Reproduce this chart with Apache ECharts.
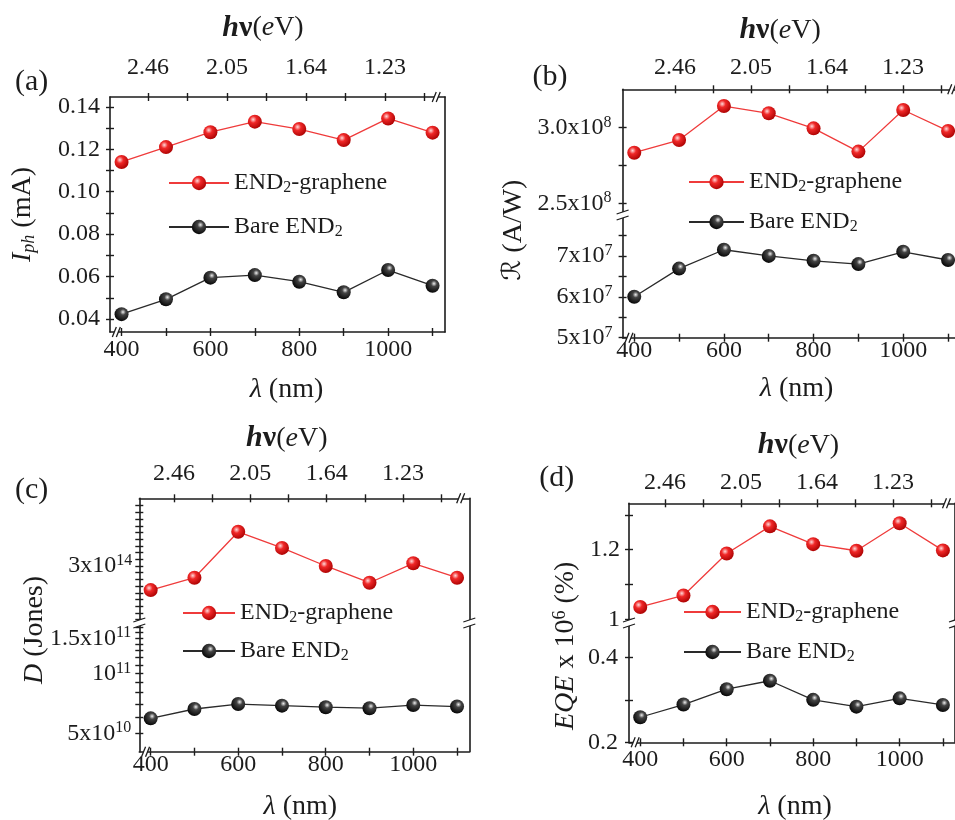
<!DOCTYPE html>
<html><head><meta charset="utf-8">
<script src="https://cdn.jsdelivr.net/npm/echarts@6/dist/echarts.min.js"></script>
<style>html,body{margin:0;padding:0;background:#fff}#c{width:955px;height:820px}</style>
</head><body><div id="c"></div>
<script>
// ---------------- data ----------------
const wavelengths = [400, 500, 600, 700, 800, 900, 1000, 1100];
const wavelengthLabels = [400, 600, 800, 1000];
const wavelengthTicks = [400, 500, 600, 700, 800, 900, 1000, 1100];
const energyLabels = [2.46, 2.05, 1.64, 1.23];
const energyTicks = [2.46, 2.255, 2.05, 1.845, 1.64, 1.435, 1.23, 1.025];
const seriesNames = ['END2-graphene', 'Bare END2'];

const iphGraphene = [0.114, 0.121, 0.128, 0.133, 0.1295, 0.1243, 0.1345, 0.1278];
const iphBare = [0.0423, 0.0493, 0.0595, 0.0607, 0.0576, 0.0526, 0.0631, 0.0557];
const iphLabels = [0.04, 0.06, 0.08, 0.10, 0.12, 0.14];
const iphTicks = [0.04, 0.05, 0.06, 0.07, 0.08, 0.09, 0.10, 0.11, 0.12, 0.13, 0.14];

const respGraphene = [2.833e8, 2.916e8, 3.14e8, 3.092e8, 2.993e8, 2.84e8, 3.114e8, 2.976e8];
const respBare = [6.0e7, 6.69e7, 7.15e7, 7.0e7, 6.88e7, 6.8e7, 7.1e7, 6.9e7];
const respUpperLabels = [2.5e8, 3.0e8];
const respUpperTicks = [2.5e8, 2.75e8, 3.0e8];
const respLowerLabels = [5e7, 6e7, 7e7];
const respLowerTicks = [5e7, 5.5e7, 6e7, 6.5e7, 7e7, 7.5e7];

const detGraphene = [2.64e14, 2.825e14, 3.51e14, 3.27e14, 3.0e14, 2.75e14, 3.04e14, 2.825e14];
const detBare = [5.94e10, 6.62e10, 7.01e10, 6.88e10, 6.76e10, 6.68e10, 6.93e10, 6.81e10];
const detUpperLabels = [3e14];
const detUpperTicks = [2.2e14, 2.3e14, 2.4e14, 2.5e14, 2.6e14, 2.7e14, 2.8e14, 2.9e14, 3.0e14, 3.1e14, 3.2e14, 3.3e14, 3.4e14, 3.5e14, 3.6e14, 3.7e14, 3.8e14, 3.9e14];
const detLowerLabels = [5e10, 1e11, 1.5e11];
const detLowerTicks = [5e10, 6e10, 7e10, 8e10, 9e10, 1e11, 1.1e11, 1.2e11, 1.3e11, 1.4e11, 1.5e11, 1.6e11, 1.7e11];

const eqeGraphene = [1.036, 1.069, 1.189, 1.267, 1.216, 1.197, 1.276, 1.198];
const eqeBare = [0.259, 0.289, 0.325, 0.345, 0.300, 0.284, 0.3035, 0.288];
const eqeUpperLabels = [1, 1.2];
const eqeUpperTicks = [1.0, 1.1, 1.2, 1.3];
const eqeLowerLabels = [0.2, 0.4];
const eqeLowerTicks = [0.2, 0.3, 0.4];

// ---------------- styles ----------------
const FONT = 'Liberation Serif';
const INK = '#1c1c1c';
const X_MIN = 374, X_MAX = 1128;
const labelStyle = {
  fontFamily: FONT, fontSize: 24, lineHeight: 26, color: INK,
  rich: { sup: { fontFamily: FONT, fontSize: 16, lineHeight: 16, verticalAlign: 'top', color: INK } }
};
const axisLineStyle = { color: INK, width: 1.6 };
const tickStyle = { color: INK, width: 1.4 };
const redBall = { type: 'radial', x: 0.38, y: 0.35, r: 0.7, colorStops: [
  { offset: 0, color: '#ffd9d9' }, { offset: 0.35, color: '#f02828' }, { offset: 1, color: '#a80000' }] };
const blackBall = { type: 'radial', x: 0.6, y: 0.35, r: 0.7, colorStops: [
  { offset: 0, color: '#eeeeee' }, { offset: 0.3, color: '#444444' }, { offset: 1, color: '#000000' }] };
const seriesLook = [
  { item: redBall, line: '#ef3b3b' },
  { item: blackBall, line: '#2a2a2a' }
];

function nameStyle(size, pad) {
  const s = Math.round(size * 0.65);
  return {
    fontFamily: FONT, fontSize: size, lineHeight: size + 2, color: INK, padding: pad,
    rich: {
      i: { fontFamily: FONT, fontStyle: 'italic', fontSize: size, lineHeight: size + 2, color: INK },
      isub: { fontFamily: FONT, fontStyle: 'italic', fontSize: s, lineHeight: s, verticalAlign: 'bottom', color: INK },
      sup: { fontFamily: FONT, fontSize: s, lineHeight: s, verticalAlign: 'top', color: INK },
      hb: { fontFamily: FONT, fontStyle: 'italic', fontWeight: 'bold', fontSize: size + 2, lineHeight: size + 2, color: INK },
      nb: { fontFamily: FONT, fontWeight: 'bold', fontSize: size + 2, lineHeight: size + 2, color: INK },
      r: { fontFamily: 'DejaVu Serif, DejaVu Sans', fontStyle: 'italic', fontSize: size - 2, lineHeight: size + 2, color: INK }
    }
  };
}

const fmtSci = (exp, digits) => v => {
  const m = v / Math.pow(10, exp);
  return (digits ? m.toFixed(digits) : String(Math.round(m * 10) / 10)) + 'x10{sup|' + exp + '}';
};

// ---------------- panels ----------------
const panels = [
  { frame: { left: 110, top: 97, width: 335, height: 235 }, eV: [0.919, 2.657],
    single: { min: 0.0339, max: 0.1446, ticks: iphTicks, labels: iphLabels, fmt: v => v.toFixed(2), margin: 10 },
    red: iphGraphene, black: iphBare,
    yName: '{i|I}{isub|ph} (mA)', yNameGap: 72, yNamePad: [0, 0, 0, 0],
    topLabelMargin: 16, topNameGap: 54, topNamePad: [0, 29, 0, 0],
    botLabelMargin: 5, botNameGap: 43, botNamePad: [0, 0, 0, 18],
    legend: { left: 168, top: 170, w: 60, gap: 18 }, tag: { text: '(a)', x: 31.7, y: 81.7 } },
  { frame: { left: 622.6, top: 89.3, width: 338, height: 248.4 }, breakY: 215, eV: [0.919, 2.743],
    upper: { min: 2.423e8, max: 3.25e8, ticks: respUpperTicks, labels: respUpperLabels, fmt: fmtSci(8, 1), margin: 11 },
    lower: { min: 5e7, max: 8e7, ticks: respLowerTicks, labels: respLowerLabels, fmt: fmtSci(7, 0), margin: 10 },
    red: respGraphene, black: respBare,
    yName: '{r|ℛ} (A/W)', yNameGap: 94, yNamePad: [0, 33, 0, 0],
    topLabelMargin: 9, topNameGap: 44, topNamePad: [0, 23, 0, 0],
    botLabelMargin: 0, botNameGap: 36, botNamePad: [0, 0, 0, 10],
    legend: { left: 688, top: 169, w: 55, gap: 14 }, tag: { text: '(b)', x: 550, y: 76.7 }, rightBreak: false },
  { frame: { left: 139.3, top: 498.3, width: 330, height: 253.4 }, breakY: 623, eV: [0.874, 2.646],
    upper: { min: 2.149e14, max: 4.01e14, ticks: detUpperTicks, labels: detUpperLabels, fmt: fmtSci(14, 0), margin: 7 },
    lower: { type: 'log', min: 4.04e10, max: 1.79e11, ticks: detLowerTicks, labels: detLowerLabels,
      fmt: v => (Math.abs(v - 1e11) < 1 ? '10{sup|11}' : (v > 1e11 ? fmtSci(11, 0)(v) : fmtSci(10, 0)(v))), margin: 8 },
    red: detGraphene, black: detBare,
    yName: '{i|D} (Jones)', yNameGap: 90, yNamePad: [0, 10, 0, 0],
    topLabelMargin: 12, topNameGap: 45, topNamePad: [0, 35, 0, 0],
    botLabelMargin: 0, botNameGap: 40, botNamePad: [0, 8, 0, 0],
    legend: { left: 182, top: 600, w: 52, gap: 12 }, tag: { text: '(c)', x: 31.7, y: 490 }, rightBreak: true },
  { frame: { left: 629, top: 503.3, width: 326, height: 239 }, breakY: 623, eV: [0.896, 2.654],
    upper: { min: 0.99, max: 1.333, ticks: eqeUpperTicks, labels: eqeUpperLabels, fmt: v => (Math.abs(v - 1) < 1e-9 ? '1' : v.toFixed(1)), margin: 9 },
    lower: { min: 0.2, max: 0.481, ticks: eqeLowerTicks, labels: eqeLowerLabels, fmt: v => v.toFixed(1), margin: 11 },
    red: eqeGraphene, black: eqeBare,
    yName: '{i|EQE} x 10{sup|6} (%)', yNameGap: 48, yNamePad: [0, 46, 0, 0],
    topLabelMargin: 8, topNameGap: 43, topNamePad: [0, 0, 0, 13],
    botLabelMargin: 4, botNameGap: 49, botNamePad: [0, 0, 0, 6],
    legend: { left: 683, top: 599, w: 57, gap: 14 }, tag: { text: '(d)', x: 556.7, y: 478.3 }, rightBreak: true }
];

// ---------------- builders ----------------
const grid = [], xAxis = [], yAxis = [], series = [], legend = [];

function addGrid(r) {
  grid.push(Object.assign({ show: false, containLabel: false, outerBoundsMode: 'none' }, r));
  return grid.length - 1;
}
function crossAxis(list, common, ticks, labels, fmt, margin, extra) {
  list.push(Object.assign({}, common, {
    nameMoveOverlap: false,
    axisLine: { show: true, onZero: false, lineStyle: axisLineStyle },
    axisTick: { show: true, inside: false, length: 4, customValues: ticks, lineStyle: tickStyle },
    axisLabel: Object.assign({ show: true, customValues: labels, formatter: fmt, margin: margin }, labelStyle),
    splitLine: { show: false }
  }, extra || {}));
  const idx = list.length - 1;
  list.push(Object.assign({}, common, {
    axisLine: { show: false, onZero: false },
    axisTick: { show: true, inside: true, length: 4, customValues: ticks, lineStyle: tickStyle },
    axisLabel: { show: false }, splitLine: { show: false }
  }));
  return idx;
}
function addSeries(vals, k, xi, yi) {
  series.push({
    type: 'line', name: seriesNames[k], xAxisIndex: xi, yAxisIndex: yi,
    data: wavelengths.map((w, i) => [w, vals[i]]),
    symbol: 'circle', symbolSize: 14, showSymbol: true,
    itemStyle: { color: seriesLook[k].item },
    lineStyle: { color: seriesLook[k].line, width: 1.3 },
    clip: false, z: 5
  });
}
function buildPanel(P) {
  const f = P.frame;
  const fg = addGrid(f);
  const botX = crossAxis(xAxis, { gridIndex: fg, type: 'value', position: 'bottom', min: X_MIN, max: X_MAX },
    wavelengthTicks, wavelengthLabels, v => String(v), P.botLabelMargin,
    { name: '{i|λ} (nm)', nameLocation: 'middle', nameGap: P.botNameGap, nameTextStyle: nameStyle(28, P.botNamePad) });
  crossAxis(xAxis, { gridIndex: fg, type: 'value', position: 'top', inverse: true, min: P.eV[0], max: P.eV[1] },
    energyTicks, energyLabels, v => v.toFixed(2), P.topLabelMargin,
    { name: '{hb|h}{nb|ν}({i|e}V)', nameLocation: 'middle', nameGap: P.topNameGap, nameTextStyle: nameStyle(28, P.topNamePad) });
  yAxis.push({ gridIndex: fg, type: 'value', position: 'right', min: 0, max: 1,
    axisLine: { show: true, onZero: false, lineStyle: axisLineStyle }, axisTick: { show: false },
    axisLabel: { show: false }, splitLine: { show: false } });
  const yName = { name: P.yName, nameLocation: 'middle', nameGap: P.yNameGap, nameRotate: 90,
    nameMoveOverlap: false, nameTextStyle: nameStyle(28, P.yNamePad) };
  const out = { botX };
  if (P.single) {
    const s = P.single;
    const yi = crossAxis(yAxis, { gridIndex: fg, type: 'value', position: 'left', min: s.min, max: s.max },
      s.ticks, s.labels, s.fmt, s.margin, yName);
    addSeries(P.red, 0, botX, yi);
    addSeries(P.black, 1, botX, yi);
    out.upperY = yi; out.lowerY = yi; out.yMin = s.min; out.yMax = s.max;
  } else {
    yAxis.push(Object.assign({ gridIndex: fg, type: 'value', position: 'left', min: 0, max: 1,
      axisLine: { show: false }, axisTick: { show: false }, axisLabel: { show: false }, splitLine: { show: false } }, yName));
    const ug = addGrid({ left: f.left, top: f.top, width: f.width, height: P.breakY - f.top });
    const lg = addGrid({ left: f.left, top: P.breakY, width: f.width, height: f.top + f.height - P.breakY });
    xAxis.push({ gridIndex: ug, type: 'value', min: X_MIN, max: X_MAX, show: false });
    const ux = xAxis.length - 1;
    xAxis.push({ gridIndex: lg, type: 'value', min: X_MIN, max: X_MAX, show: false });
    const lx = xAxis.length - 1;
    const u = P.upper, l = P.lower;
    const uy = crossAxis(yAxis, { gridIndex: ug, type: u.type || 'value', position: 'left', min: u.min, max: u.max },
      u.ticks, u.labels, u.fmt, u.margin);
    const ly = crossAxis(yAxis, { gridIndex: lg, type: l.type || 'value', position: 'left', min: l.min, max: l.max },
      l.ticks, l.labels, l.fmt, l.margin);
    addSeries(P.red, 0, ux, uy);
    addSeries(P.black, 1, lx, ly);
    out.upperY = uy; out.lowerY = ly; out.yMin = l.min; out.yMax = u.max; out.breakVal = l.max;
  }
  legend.push({
    left: P.legend.left, top: P.legend.top, orient: 'vertical', itemWidth: P.legend.w, itemHeight: 18,
    itemGap: P.legend.gap, padding: 0, data: seriesNames, selectedMode: false,
    textStyle: { fontFamily: FONT, fontSize: 24, lineHeight: 26, color: INK,
      rich: { sub: { fontFamily: FONT, fontSize: 16, lineHeight: 16, verticalAlign: 'bottom', color: INK } } },
    formatter: n => n.replace('END2', 'END{sub|2}')
  });
  return out;
}
const refs = panels.map(buildPanel);

const chart = echarts.init(document.getElementById('c'), null, { renderer: 'canvas', width: 955, height: 820 });
chart.setOption({
  backgroundColor: '#ffffff', animation: false,
  grid, xAxis, yAxis, series, legend
});

// ---------------- decorations (axis break marks, panel tags) ----------------
function yBreak(cx, cy) {
  return [
    { type: 'polygon', z: 100, shape: { points: [[cx - 6, cy - 1], [cx + 6, cy - 5], [cx + 6, cy + 1], [cx - 6, cy + 5]] }, style: { fill: '#ffffff' } },
    { type: 'line', z: 101, shape: { x1: cx - 6, y1: cy - 1, x2: cx + 6, y2: cy - 5 }, style: { stroke: INK, lineWidth: 1.3 } },
    { type: 'line', z: 101, shape: { x1: cx - 6, y1: cy + 5, x2: cx + 6, y2: cy + 1 }, style: { stroke: INK, lineWidth: 1.3 } }
  ];
}
function xBreak(cx, cy) {
  return [
    { type: 'polygon', z: 100, shape: { points: [[cx - 3, cy + 5], [cx + 1, cy - 5], [cx + 5, cy - 5], [cx + 1, cy + 5]] }, style: { fill: '#ffffff' } },
    { type: 'line', z: 101, shape: { x1: cx - 3, y1: cy + 5, x2: cx + 1, y2: cy - 5 }, style: { stroke: INK, lineWidth: 1.3 } },
    { type: 'line', z: 101, shape: { x1: cx + 1, y1: cy + 5, x2: cx + 5, y2: cy - 5 }, style: { stroke: INK, lineWidth: 1.3 } }
  ];
}
const gfx = [];
refs.forEach((R, k) => {
  const P = panels[k];
  const xb = chart.convertToPixel({ xAxisIndex: R.botX }, 386);
  const xt = chart.convertToPixel({ xAxisIndex: R.botX }, 1106);
  const xl = chart.convertToPixel({ xAxisIndex: R.botX }, X_MIN);
  const xr = chart.convertToPixel({ xAxisIndex: R.botX }, X_MAX);
  const yb = chart.convertToPixel({ yAxisIndex: R.lowerY }, R.yMin);
  const yt = chart.convertToPixel({ yAxisIndex: R.upperY }, R.yMax);
  gfx.push(...xBreak(xb, yb), ...xBreak(xt, yt));
  if (!P.single) {
    const ym = chart.convertToPixel({ yAxisIndex: R.lowerY }, R.breakVal);
    gfx.push(...yBreak(xl, ym));
    if (P.rightBreak) gfx.push(...yBreak(xr, ym));
  }
  gfx.push({ type: 'text', z: 102, x: P.tag.x, y: P.tag.y,
    style: { text: P.tag.text, fontFamily: FONT, fontSize: 30, fill: INK, align: 'center', verticalAlign: 'middle' } });
});
chart.setOption({ graphic: gfx });
</script>
</body></html>
